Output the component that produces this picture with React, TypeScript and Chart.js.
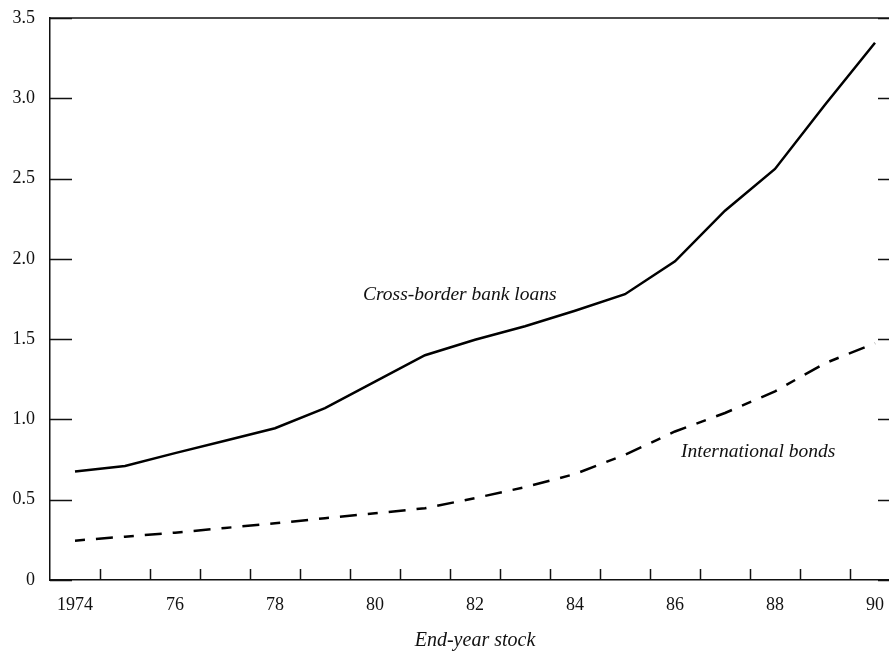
import React, { useEffect, useRef } from "react";
import { Chart, registerables } from "chart.js";

Chart.register(...registerables);

// ---- data ----
const years = [
  "1974", "1975", "1976", "1977", "1978", "1979", "1980", "1981", "1982",
  "1983", "1984", "1985", "1986", "1987", "1988", "1989", "1990",
];
const xTickLabels = [
  "1974", "", "76", "", "78", "", "80", "", "82",
  "", "84", "", "86", "", "88", "", "90",
];
const bankLoans = [
  0.675, 0.71, 0.79, 0.867, 0.945, 1.07, 1.235, 1.4, 1.496,
  1.58, 1.677, 1.78, 1.985, 2.3, 2.56, 2.96, 3.346,
];
const intlBonds = [
  0.245, 0.27, 0.295, 0.324, 0.353, 0.385, 0.415, 0.447, 0.51,
  0.578, 0.66, 0.78, 0.925, 1.04, 1.175, 1.35, 1.475,
];
const yMin = 0;
const yMax = 3.5;
const yStep = 0.5;
const xTitle = "End-year stock";
const seriesNames = ["Cross-border bank loans", "International bonds"];
// annotation anchors in data coordinates (category index, value)
const annotationAnchors = [
  { text: seriesNames[0], idx: 5.76, value: 1.777 },
  { text: seriesNames[1], idx: 12.12, value: 0.8 },
];

const FONT = '"Liberation Serif", "Times New Roman", serif';
const INK = "#111";

const framePlugin = {
  id: "frame",
  afterDraw(chart: any) {
    const { ctx, chartArea: a, scales } = chart;
    const x = scales.x;
    const y = scales.y;
    ctx.save();
    ctx.strokeStyle = INK;
    ctx.lineWidth = 1.5;
    ctx.beginPath();
    // top border
    ctx.moveTo(a.left, a.top);
    ctx.lineTo(a.right, a.top);
    // y ticks, inward on both sides
    y.ticks.forEach((t: any) => {
      const py = Math.round(y.getPixelForValue(t.value)) + 0.5;
      ctx.moveTo(a.left, py);
      ctx.lineTo(a.left + 22, py);
      ctx.moveTo(a.right - 22, py);
      ctx.lineTo(a.right, py);
    });
    // x ticks at category boundaries, inward
    for (let i = 1; i < years.length; i++) {
      const px = Math.round(x.getPixelForValue(i - 0.5)) + 0.5;
      ctx.moveTo(px, a.bottom);
      ctx.lineTo(px, a.bottom - 11);
    }
    ctx.stroke();

    ctx.fillStyle = INK;
    ctx.font = `italic 19.5px ${FONT}`;
    ctx.textAlign = "left";
    ctx.textBaseline = "middle";
    annotationAnchors.forEach((an) => {
      ctx.fillText(an.text, x.getPixelForValue(an.idx), y.getPixelForValue(an.value));
    });
    ctx.restore();
  },
};

export default function App() {
  const ref = useRef<HTMLCanvasElement | null>(null);

  useEffect(() => {
    if (!ref.current) return;
    const chart = new Chart(ref.current, {
      type: "line",
      data: {
        labels: years,
        datasets: [
          {
            label: seriesNames[0],
            data: bankLoans,
            borderColor: "#000",
            borderWidth: 2.5,
            pointRadius: 0,
            tension: 0,
            fill: false,
          },
          {
            label: seriesNames[1],
            data: intlBonds,
            borderColor: "#000",
            borderWidth: 2.5,
            borderDash: [10, 11, 17, 11],
            pointRadius: 0,
            tension: 0,
            fill: false,
          },
        ],
      },
      options: {
        responsive: false,
        animation: false,
        events: [],
        layout: { padding: { top: 18, right: 0, left: 0, bottom: 0 } },
        plugins: {
          legend: { display: false },
          tooltip: { enabled: false },
          title: { display: false },
        },
        scales: {
          x: {
            type: "category",
            offset: true,
            grid: { display: false, drawTicks: false, offset: true },
            border: { display: true, color: INK, width: 1.5 },
            ticks: {
              autoSkip: false,
              maxRotation: 0,
              padding: 14,
              color: INK,
              font: { family: FONT, size: 18 },
              callback: (_v: any, i: number) => xTickLabels[i],
            },
            title: {
              display: true,
              text: xTitle,
              color: INK,
              font: { family: FONT, size: 20, style: "italic" },
              padding: { top: 0, bottom: -2 },
            },
            afterFit: (s: any) => {
              s.height = 71;
              s.paddingLeft = 0;
              s.paddingRight = 0;
            },
          },
          y: {
            min: yMin,
            max: yMax,
            grid: { display: false, drawTicks: false },
            border: { display: true, color: INK, width: 1.5 },
            ticks: {
              stepSize: yStep,
              padding: 15,
              color: INK,
              font: { family: FONT, size: 18 },
              callback: (v: any) => (Number(v) === 0 ? "0" : Number(v).toFixed(1)),
            },
            afterFit: (s: any) => {
              s.width = 50;
              s.paddingTop = 0;
              s.paddingBottom = 0;
            },
          },
        },
      },
      plugins: [framePlugin],
    });
    return () => chart.destroy();
  }, []);

  return (
    <div
      style={{
        position: "fixed",
        left: 0,
        top: 0,
        width: 889,
        height: 651,
        overflow: "hidden",
        background: "#fff",
      }}
    >
      <canvas ref={ref} width={900} height={651} style={{ display: "block", width: 900, height: 651 }} />
    </div>
  );
}
